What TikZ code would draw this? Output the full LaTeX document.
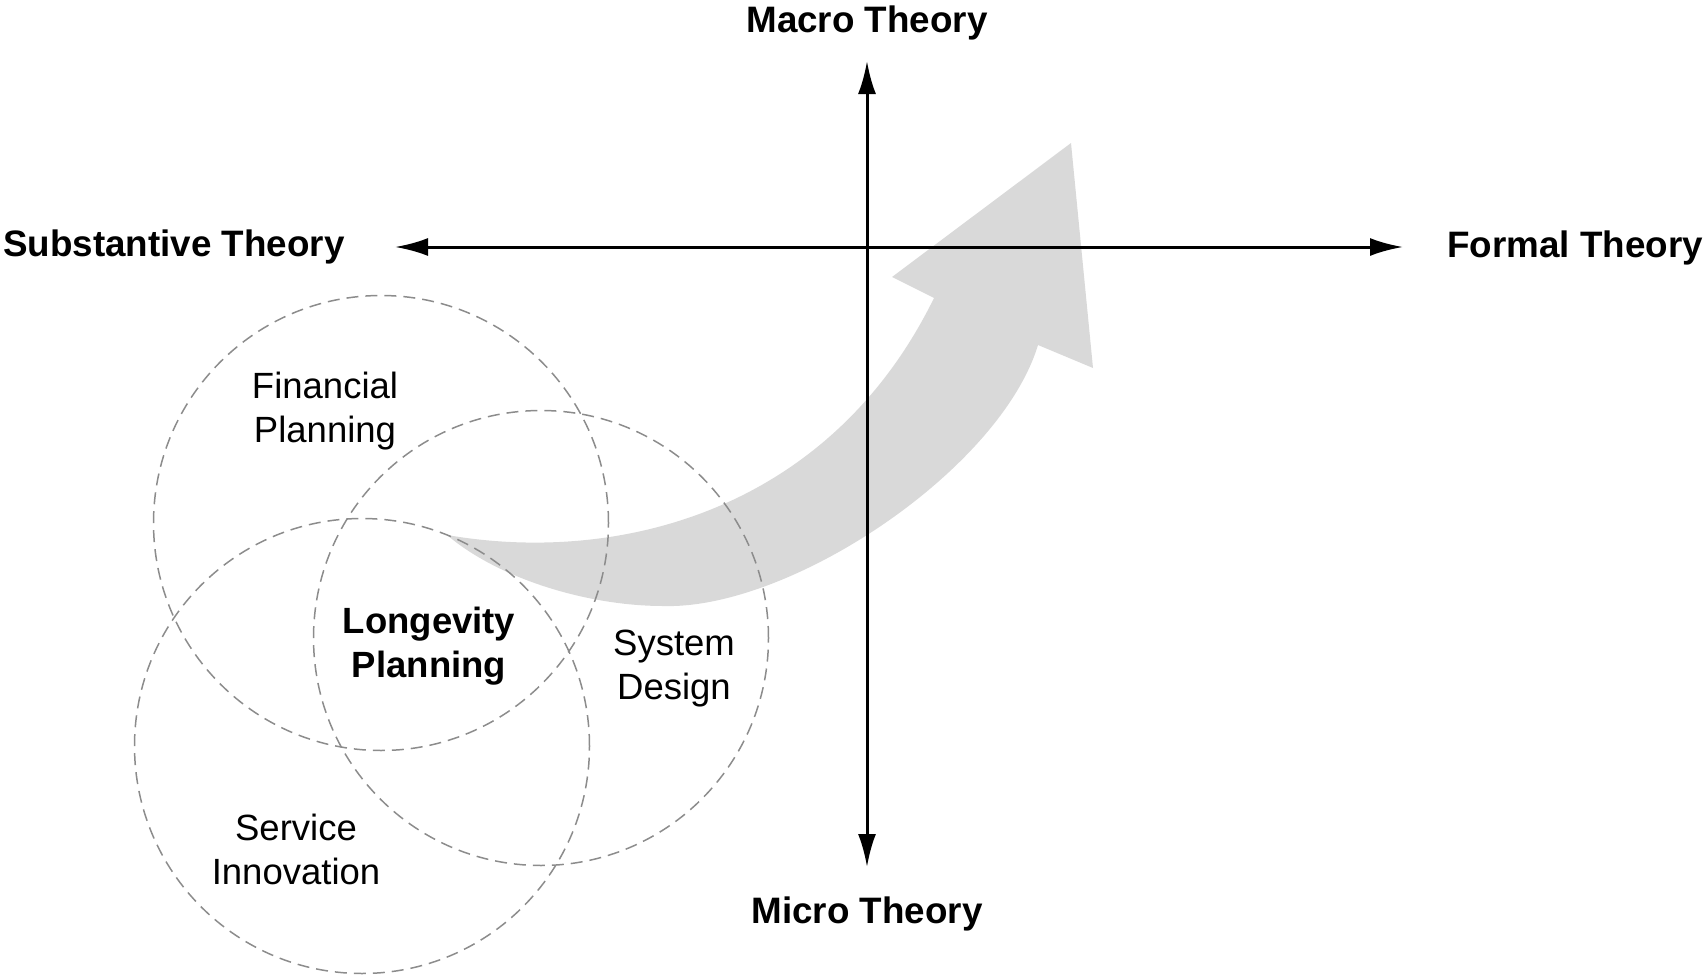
\documentclass[tikz,border=0pt]{standalone}
\usepackage{fontspec}
\setmainfont{Liberation Sans}
\usetikzlibrary{arrows.meta}
\definecolor{venngray}{RGB}{140,140,140}
\definecolor{flowgray}{RGB}{217,217,217}
\newcommand{\twolines}[2]{\begin{tabular}[t]{@{}c@{}}#1\\#2\end{tabular}}
\renewcommand{\arraystretch}{1}
\tikzset{
  axislabel/.style={font=\fontsize{36.8}{44}\selectfont\bfseries, inner sep=0pt},
  arealabel/.style={font=\fontsize{36.5}{44}\selectfont, inner sep=0pt},
  venn/.style={circle, draw=venngray, line width=1.5pt, dash pattern=on 12pt off 7pt, minimum size=455pt, inner sep=0pt},
  axisline/.style={line width=3pt, {Latex[length=33pt,width=18pt]}-{Latex[length=33pt,width=18pt]}},
  flow/.style={fill=flowgray}
}
\begin{document}
\begin{tikzpicture}[x=1pt,y=-1pt]
\useasboundingbox (0,0) rectangle (1706,977);
% big curved arrow
\fill[flow] (447,535) .. controls (620,565) and (830,510) .. (934,298)
  -- (892,277) -- (1071,143) -- (1093,368) -- (1038,345)
  .. controls (1000,470) and (790,610) .. (663,606)
  .. controls (590,606) and (500,580) .. (447,535) -- cycle;
% circles
\node[venn] (cfin) at (381,523) {};
\node[venn] (csys) at (541,638) {};
\node[venn] (csvc) at (362,746) {};
% axes
\coordinate (xl) at (395,247);
\coordinate (xr) at (1403,247);
\coordinate (yt) at (867,61);
\coordinate (yb) at (867,867);
\draw[axisline] (xl) -- (xr);
\draw[axisline] (yt) -- (yb);
% axis labels
\node[axislabel, anchor=base] (macro) at (867,32) {Macro Theory};
\node[axislabel, anchor=base] (micro) at (867,923) {Micro Theory};
\node[axislabel, anchor=base west] (subst) at (3,256) {Substantive Theory};
\node[axislabel, anchor=base east] (formal) at (1703,257) {Formal Theory};
% area labels
\node[arealabel, anchor=base] (lfin) at (325,398) {\twolines{Financial}{Planning}};
\node[arealabel, anchor=base, font=\fontsize{36.5}{44}\selectfont\bfseries] (llong) at (429,633) {\twolines{Longevity}{Planning}};
\node[arealabel, anchor=base] (lsys) at (674,655) {\twolines{System}{Design}};
\node[arealabel, anchor=base] (lsvc) at (296,840) {\twolines{Service}{Innovation}};
\end{tikzpicture}
\end{document}
